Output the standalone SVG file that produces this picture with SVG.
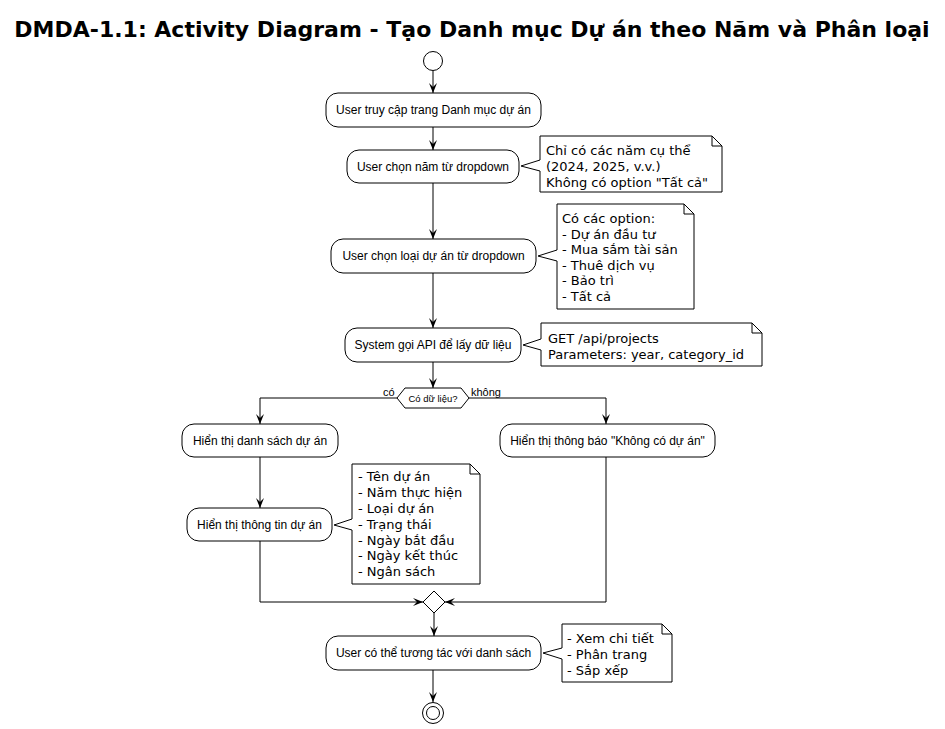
<svg xmlns="http://www.w3.org/2000/svg" width="945" height="729" viewBox="0 0 945 729">
<defs>
<style>
.bg{fill:#fff}
.act rect{fill:#fff;stroke:#000;stroke-width:1}
.act text{font-family:"Liberation Sans",Arial,sans-serif;font-size:12px;text-anchor:middle;fill:#000}
.note path{fill:#fff;stroke:#000;stroke-width:1}
.note text{font-family:"DejaVu Sans",Verdana,sans-serif;font-size:13px;fill:#000}
.conn path,.conn line{fill:none;stroke:#000;stroke-width:1}
.lbl{font-family:"Liberation Sans",Arial,sans-serif;font-size:11px;fill:#000}
</style>
<marker id="ah" viewBox="0 0 10 10" refX="10" refY="5" markerWidth="10" markerHeight="10" markerUnits="userSpaceOnUse" orient="auto">
<path d="M10,5 L0,1 L4,5 L0,9 Z" fill="#000"/>
</marker>
</defs>
<rect class="bg" x="0" y="0" width="945" height="729"/>
<text x="472" y="37" text-anchor="middle" font-family="DejaVu Sans,Verdana,sans-serif" font-weight="bold" font-size="22">DMDA-1.1: Activity Diagram - Tạo Danh mục Dự án theo Năm và Phân loại</text>

<g id="start"><circle cx="433" cy="61" r="9.5" fill="#fff" stroke="#000"/></g>

<g id="a1" class="act"><rect x="326" y="93" width="215" height="34" rx="12"/><text x="433.5" y="114">User truy cập trang Danh mục dự án</text></g>
<g id="a2" class="act"><rect x="347" y="150" width="172" height="33" rx="12"/><text x="433" y="171">User chọn năm từ dropdown</text></g>
<g id="n1" class="note"><path d="M540,136 H712 L722,146 V192 H540 V171 L521,166 L540,160 Z M712,136 V146 H722"/>
<text x="546" y="155">Chỉ có các năm cụ thể</text><text x="546" y="171">(2024, 2025, v.v.)</text><text x="546" y="187">Không có option "Tất cả"</text></g>

<g id="a3" class="act"><rect x="331" y="239" width="205" height="34" rx="12"/><text x="433.5" y="260">User chọn loại dự án từ dropdown</text></g>
<g id="n2" class="note"><path d="M557,204 H684 L694,214 V309 H557 V261 L538,256 L557,250 Z M684,204 V214 H694"/>
<text x="562" y="223">Có các option:</text><text x="562" y="238.5">- Dự án đầu tư</text><text x="562" y="254">- Mua sắm tài sản</text><text x="562" y="269.5">- Thuê dịch vụ</text><text x="562" y="285">- Bảo trì</text><text x="562" y="300.5">- Tất cả</text></g>

<g id="a4" class="act"><rect x="345" y="328" width="176" height="34" rx="12"/><text x="433" y="349">System gọi API để lấy dữ liệu</text></g>
<g id="n3" class="note"><path d="M541,323 H752 L762,333 V366 H541 V350 L523,345 L541,339 Z M752,323 V333 H762"/>
<text x="548" y="343">GET /api/projects</text><text x="548" y="359">Parameters: year, category_id</text></g>

<g id="d1"><path d="M397,398 L405,388 H461 L469,398 L461,408 H405 Z" fill="#fff" stroke="#000"/>
<text x="433" y="401.5" text-anchor="middle" font-family="Liberation Sans,Arial,sans-serif" font-size="9.5">Có dữ liệu?</text></g>

<g id="a5" class="act"><rect x="182" y="424" width="156" height="33" rx="12"/><text x="260" y="445">Hiển thị danh sách dự án</text></g>
<g id="a6" class="act"><rect x="500" y="424" width="215" height="33" rx="12"/><text x="607.5" y="445">Hiển thị thông báo "Không có dự án"</text></g>

<g id="a7" class="act"><rect x="187" y="508" width="145" height="33" rx="12"/><text x="259.5" y="529">Hiển thị thông tin dự án</text></g>
<g id="n4" class="note"><path d="M352,464 H470 L480,474 V584 H352 V530 L334,525 L352,519 Z M470,464 V474 H480"/>
<text x="358" y="481">- Tên dự án</text><text x="358" y="497">- Năm thực hiện</text><text x="358" y="513">- Loại dự án</text><text x="358" y="528.5">- Trạng thái</text><text x="358" y="544.5">- Ngày bắt đầu</text><text x="358" y="560">- Ngày kết thúc</text><text x="358" y="576">- Ngân sách</text></g>

<g id="merge"><path d="M434,591 L445,602 L434,613 L423,602 Z" fill="#fff" stroke="#000"/></g>

<g id="a8" class="act"><rect x="326" y="636" width="215" height="34" rx="12"/><text x="433.5" y="657">User có thể tương tác với danh sách</text></g>
<g id="n5" class="note"><path d="M562,624 H662 L672,634 V682 H562 V659 L543,653 L562,648 Z M662,624 V634 H672"/>
<text x="567" y="643">- Xem chi tiết</text><text x="567" y="659">- Phân trang</text><text x="567" y="675">- Sắp xếp</text></g>

<g id="end"><circle cx="433" cy="713" r="10.5" fill="#fff" stroke="#000"/><circle cx="433" cy="713" r="6.5" fill="#fff" stroke="#000"/></g>

<g id="connectors" class="conn">
<line x1="433" y1="71" x2="433" y2="93" marker-end="url(#ah)"/>
<line x1="433" y1="127" x2="433" y2="150" marker-end="url(#ah)"/>
<line x1="433" y1="183" x2="433" y2="239" marker-end="url(#ah)"/>
<line x1="433" y1="273" x2="433" y2="328" marker-end="url(#ah)"/>
<line x1="433" y1="362" x2="433" y2="388" marker-end="url(#ah)"/>
<path d="M397,398 H260 V424" marker-end="url(#ah)"/>
<path d="M469,398 H606 V424" marker-end="url(#ah)"/>
<line x1="260" y1="457" x2="260" y2="508" marker-end="url(#ah)"/>
<path d="M260,541 V602 H423" marker-end="url(#ah)"/>
<path d="M606,457 V602 H445" marker-end="url(#ah)"/>
<line x1="434" y1="613" x2="434" y2="636" marker-end="url(#ah)"/>
<line x1="433" y1="670" x2="433" y2="702" marker-end="url(#ah)"/>
</g>
<text class="lbl" x="383" y="396">có</text>
<text class="lbl" x="471" y="396">không</text>
</svg>
